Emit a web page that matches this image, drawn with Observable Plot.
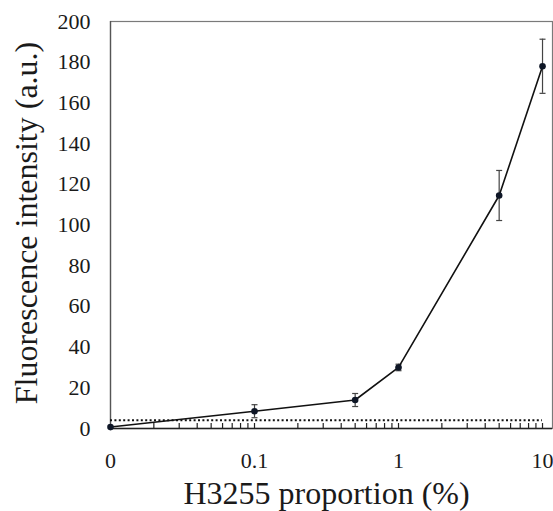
<!DOCTYPE html>
<html><head><meta charset="utf-8">
<script src="https://cdn.jsdelivr.net/npm/d3@7"></script>
<script src="https://cdn.jsdelivr.net/npm/@observablehq/plot@0.6"></script>
<style>body{margin:0;background:#fff} svg{display:block}</style>
</head><body><div id="chart"></div>
<script>
// ---- data ----
const proportions = [0, 0.1, 0.5, 1, 5, 10];          // H3255 proportion (%)
const intensity   = [0.7, 8.5, 14, 30, 114.5, 178];   // mean fluorescence (a.u.)
const errors      = [0, 3.2, 3.2, 1.6, 12.3, 13.3];   // error bar half-lengths
const threshold   = 4;                                  // dotted baseline level
const xTickValues = [0, 0.1, 1, 10];
const xTickLabels = ["0", "0.1", "1", "10"];
const minorTicks  = [0.02,0.03,0.04,0.05,0.06,0.07,0.08,0.09,0.1,
                     0.2,0.3,0.4,0.5,0.6,0.7,0.8,0.9,1,
                     2,3,4,5,6,7,8,9,10];
const yTicks      = [0,20,40,60,80,100,120,140,160,180,200];
const xTitle = "H3255 proportion (%)";
const yTitle = "Fluorescence intensity (a.u.)";

// 0 is drawn one decade below 0.1 on the log axis
const ZERO_POS = 0.01;
const px = p => p === 0 ? ZERO_POS : p;
const data = proportions.map((p, i) => ({x: px(p), y: intensity[i], e: errors[i]}));
const tickLabelOf = new Map(xTickValues.map((v, i) => [px(v), xTickLabels[i]]));

const capSymbol = {draw(ctx, size) { const r = Math.sqrt(size / Math.PI); ctx.moveTo(-r, 0); ctx.lineTo(r, 0); }};

const W = 553, H = 511, mT = 21, mB = 83, mL = 110, mR = 1;
const innerH = H - mT - mB;

const chart = Plot.plot({
  width: W, height: H,
  marginTop: mT, marginBottom: mB, marginLeft: mL, marginRight: mR,
  style: {fontFamily: "Liberation Serif", fontSize: "22px"},
  x: {type: "log", domain: [ZERO_POS, 11.73]},
  y: {domain: [0, 200]},
  marks: [
    Plot.frame({stroke: "#7a7a7a", strokeWidth: 1.2}),
    Plot.ruleX([ZERO_POS], {stroke: "#555", strokeWidth: 1.3}),
    Plot.ruleY([0], {stroke: "#222", strokeWidth: 1.5}),
    Plot.tickX(minorTicks, {x: d => d, insetTop: innerH - 5, stroke: "#222", strokeWidth: 1.2}),
    Plot.axisY({ticks: yTicks, tickSize: 0, tickPadding: 20, fill: "#1a1a1a", label: null}),
    Plot.axisX({ticks: xTickValues.map(px), tickFormat: d => tickLabelOf.get(d), tickSize: 0, tickPadding: 24, fill: "#1a1a1a", label: null}),
    Plot.ruleY([threshold], {x1: ZERO_POS, x2: 10, stroke: "#111", strokeWidth: 2, strokeDasharray: "2,2.4"}),
    Plot.ruleX(data.filter(d => d.e > 0), {x: "x", y1: d => d.y - d.e, y2: d => d.y + d.e, stroke: "#444", strokeWidth: 1.2}),
    Plot.dot(data.filter(d => d.e > 0), {x: "x", y: d => d.y - d.e, symbol: capSymbol, r: 3, stroke: "#444", strokeWidth: 1.2}),
    Plot.dot(data.filter(d => d.e > 0), {x: "x", y: d => d.y + d.e, symbol: capSymbol, r: 3, stroke: "#444", strokeWidth: 1.2}),
    Plot.line(data, {x: "x", y: "y", stroke: "#111", strokeWidth: 1.6}),
    Plot.dot(data, {x: "x", y: "y", r: 3.3, fill: "#0e1626", stroke: "none"}),
    Plot.text([xTitle], {text: d => d, frameAnchor: "bottom", textAnchor: "middle", lineAnchor: "middle", dy: 65, dx: -5, fontSize: 32, fill: "#1a1a1a"}),
    Plot.text([yTitle], {text: d => d, frameAnchor: "left", textAnchor: "middle", lineAnchor: "middle", dx: -84, dy: -2, rotate: -90, fontSize: 32, fill: "#1a1a1a"})
  ]
});
document.getElementById("chart").append(chart);
</script>
</body></html>
